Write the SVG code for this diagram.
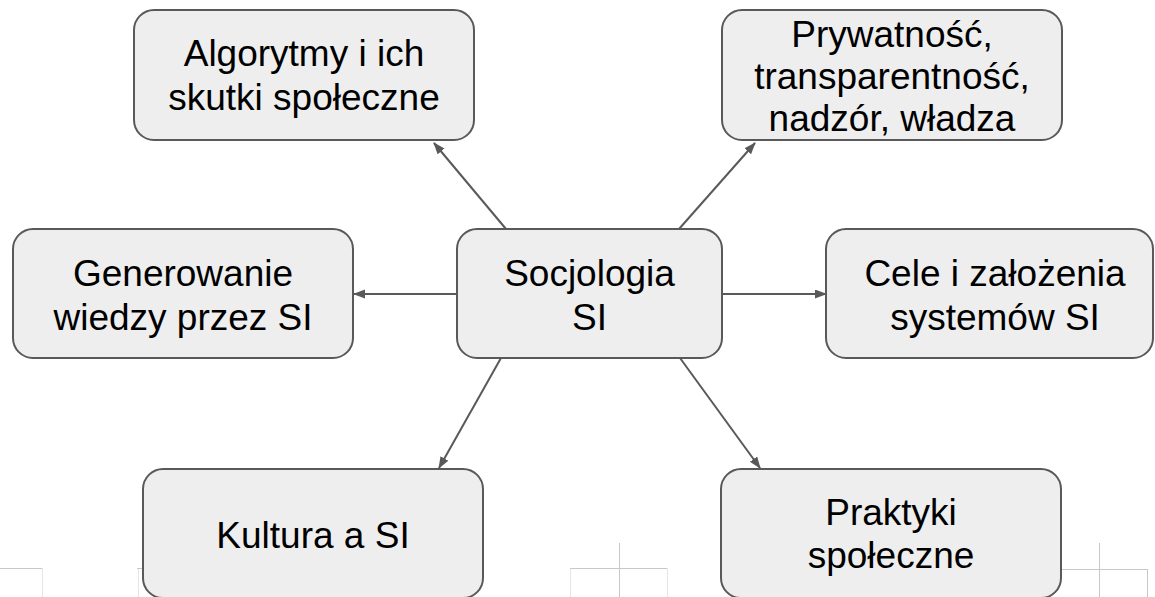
<svg xmlns="http://www.w3.org/2000/svg" width="1155" height="597" viewBox="0 0 1155 597">
<defs>
<marker id="ah" markerWidth="12" markerHeight="10" refX="11" refY="4.5" orient="auto" markerUnits="userSpaceOnUse">
<path d="M0,0 L12,4.5 L0,9 Z" fill="#595959"/>
</marker>
<style>
.box{fill:#eeeeee;stroke:#595959;stroke-width:2}
.lbl{font-family:"Liberation Sans",Arial,sans-serif;font-size:37px;fill:#000;text-anchor:middle}
.con{stroke:#595959;stroke-width:2;fill:none;marker-end:url(#ah)}
.guide{stroke:#c8c8c8;stroke-width:1;fill:none}
.guide2{stroke:#e6e6e6;stroke-width:1;fill:none}
</style>
</defs>
<rect width="1155" height="597" fill="#ffffff"/>
<g id="guides">
<path class="guide" d="M0,568.5 H42"/>
<path class="guide2" d="M42.5,568 V597 M138.5,568 V597 M570.5,568 V597 M667.5,568 V597"/>
<path class="guide" d="M137,568.5 H143"/>
<path class="guide" d="M619.5,543 V597 M570,568.5 H667"/>
<path class="guide" d="M1099.5,543 V597 M1061,569.5 H1147 M1147.5,569 V597"/>
</g>
<g id="connectors">
<line class="con" x1="506" y1="229" x2="434" y2="143"/>
<line class="con" x1="679" y1="229" x2="755" y2="143"/>
<line class="con" x1="457" y1="294" x2="354" y2="294"/>
<line class="con" x1="722" y1="294" x2="826" y2="294"/>
<line class="con" x1="501" y1="358" x2="439" y2="468"/>
<line class="con" x1="680" y1="358" x2="760" y2="468"/>
</g>
<g id="n-center">
<rect class="box" x="457" y="229" width="265" height="129" rx="20"/>
<text class="lbl" x="589.5" y="286">Socjologia</text>
<text class="lbl" x="589.5" y="330">SI</text>
</g>
<g id="n-algorytmy">
<rect class="box" x="134" y="10" width="340" height="130" rx="20"/>
<text class="lbl" x="304" y="66">Algorytmy i ich</text>
<text class="lbl" x="304" y="110">skutki społeczne</text>
</g>
<g id="n-prywatnosc">
<rect class="box" x="722" y="10" width="340" height="130" rx="20"/>
<text class="lbl" x="892" y="47">Prywatność,</text>
<text class="lbl" x="892" y="89">transparentność,</text>
<text class="lbl" x="892" y="131">nadzór, władza</text>
</g>
<g id="n-generowanie">
<rect class="box" x="13" y="229" width="340" height="129" rx="20"/>
<text class="lbl" x="183" y="286">Generowanie</text>
<text class="lbl" x="183" y="330">wiedzy przez SI</text>
</g>
<g id="n-cele">
<rect class="box" x="826" y="229" width="327" height="129" rx="20"/>
<text class="lbl" x="995" y="286">Cele i założenia</text>
<text class="lbl" x="995" y="330">systemów SI</text>
</g>
<g id="n-kultura">
<rect class="box" x="143" y="469" width="340" height="129" rx="20"/>
<text class="lbl" x="313" y="548">Kultura a SI</text>
</g>
<g id="n-praktyki">
<rect class="box" x="721" y="469" width="340" height="129" rx="20"/>
<text class="lbl" x="891" y="525">Praktyki</text>
<text class="lbl" x="891" y="568">społeczne</text>
</g>
</svg>
